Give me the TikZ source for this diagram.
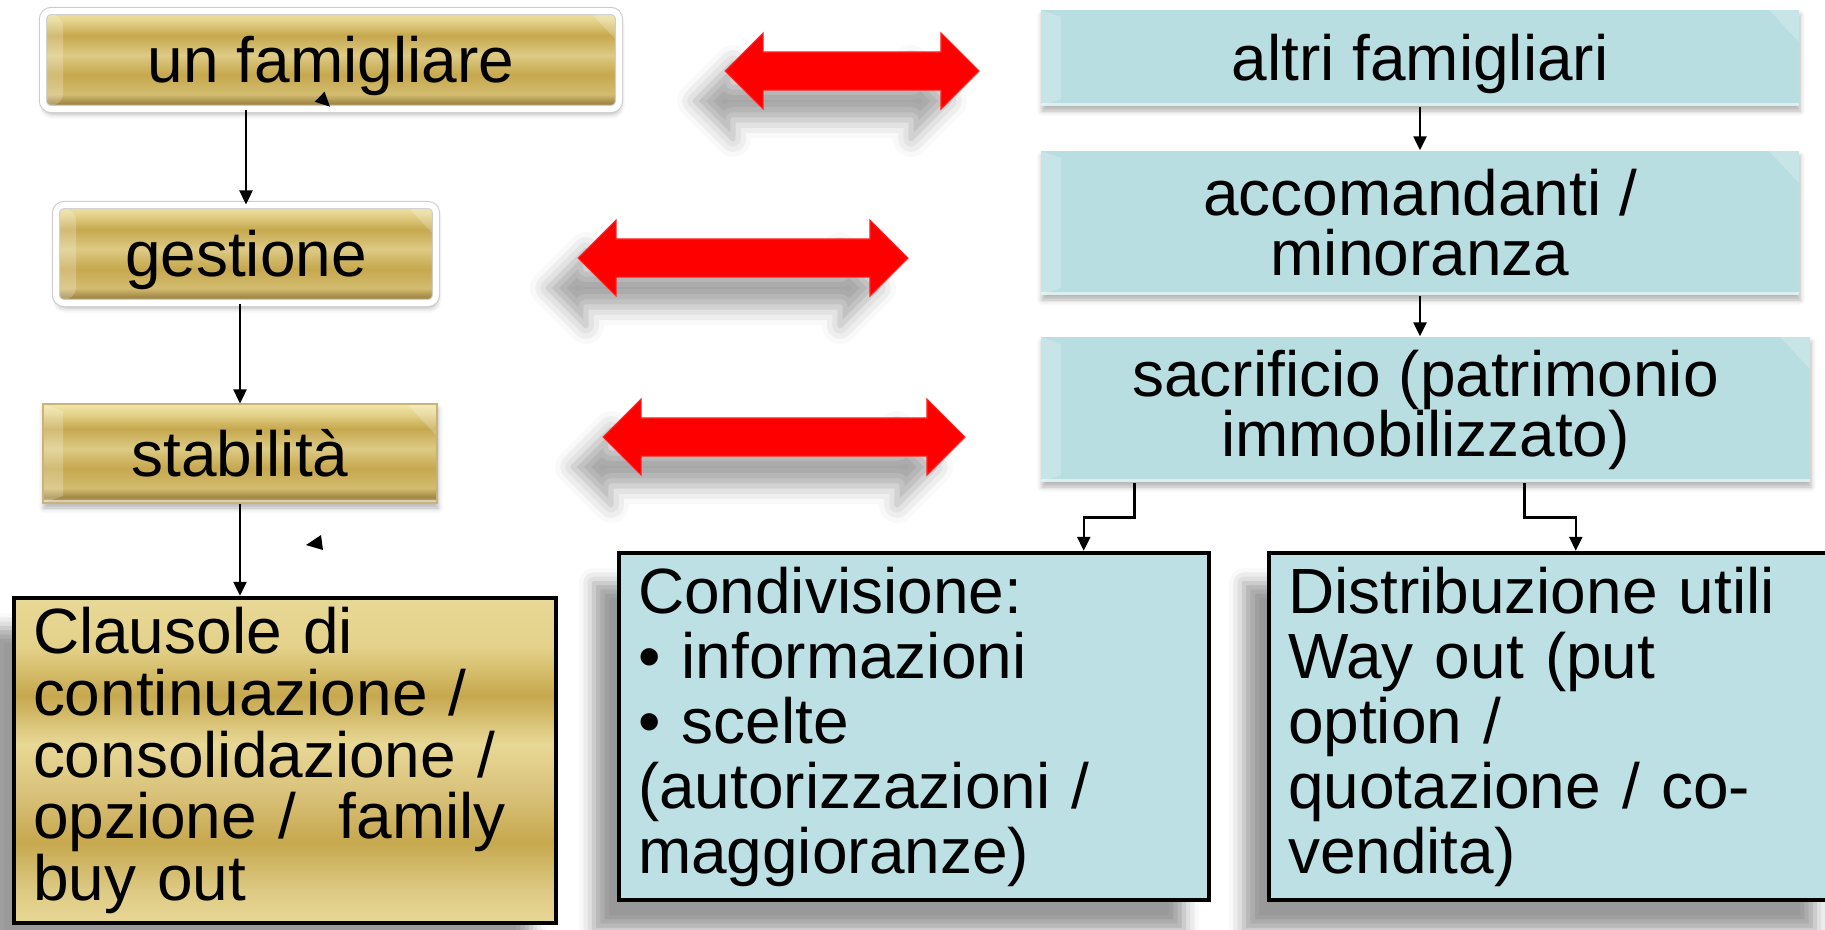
\documentclass[tikz,border=0pt]{standalone}
\usepackage{fontspec}
\setmainfont{Liberation Sans}
\usetikzlibrary{arrows.meta,shapes.arrows,shadows.blur}

\definecolor{goldtop}{HTML}{F2E6A8}
\definecolor{goldhi}{HTML}{E4D28A}
\definecolor{goldmid}{HTML}{DDCA84}
\definecolor{golddark}{HTML}{C6A84E}
\definecolor{goldlow}{HTML}{D3BC70}
\definecolor{goldedge}{HTML}{A08845}
\definecolor{goldbase}{HTML}{C8B47A}
\definecolor{goldpale}{HTML}{E8D896}
\definecolor{goldsoft}{HTML}{D9C27A}
\definecolor{tealhead}{HTML}{B8DEE1}
\definecolor{tealtext}{HTML}{BCE0E3}

\pgfdeclareverticalshading{goldbar}{100bp}{%
  color(0bp)=(goldbase); color(25bp)=(goldbase); color(28bp)=(goldedge);
  color(32.5bp)=(goldlow); color(42.5bp)=(golddark); color(52.5bp)=(goldmid);
  color(62.5bp)=(golddark); color(70bp)=(goldhi); color(75bp)=(goldtop);
  color(100bp)=(goldtop)}
\pgfdeclareverticalshading{goldtall}{100bp}{%
  color(0bp)=(goldpale); color(25bp)=(goldpale); color(30bp)=(goldmid);
  color(37.5bp)=(golddark); color(45bp)=(goldsoft); color(52.5bp)=(goldpale);
  color(60bp)=(golddark); color(67.5bp)=(goldhi); color(75bp)=(goldpale);
  color(100bp)=(goldpale)}

\begin{document}
\begin{tikzpicture}[
    font=\fontsize{18.2}{17.1}\selectfont,
    bevelled/.style={path picture={
        \fill[white,opacity=0.22] (path picture bounding box.north west) -- (path picture bounding box.south west)
            -- ([shift={(0.2,0.07)}]path picture bounding box.south west)
            -- ([shift={(0.2,-0.07)}]path picture bounding box.north west) -- cycle;
        \fill[white,opacity=0.22] (path picture bounding box.north east) -- ++(-0.3,0) -- ++(0.3,-0.32) -- cycle;
        \fill[white,opacity=0.5] (path picture bounding box.south west) rectangle ([yshift=0.03cm]path picture bounding box.south east);}},
    goldbox/.style={shading=goldbar, bevelled, inner sep=0pt, minimum height=0.98cm, text height=0.45cm, text depth=0pt,
        blur shadow={shadow xshift=0.01cm, shadow yshift=-0.05cm, shadow blur radius=0.05cm, shadow opacity=30}},
    framed/.style={goldbox, draw=gray!40, line width=0.3pt, double=white, double distance=0.06cm, rounded corners=0.08cm},
    headbox/.style={fill=tealhead, bevelled, inner sep=0pt, align=center, minimum width=7.58cm,
        blur shadow={shadow xshift=0.01cm, shadow yshift=-0.05cm, shadow blur radius=0.05cm, shadow opacity=30}},
    listbox/.style={draw=black, line width=0.045cm, align=left, inner xsep=0.19cm, inner ysep=0pt,
        font=\fontsize{18.2}{18.5}\selectfont,
        blur shadow={shadow xshift=-0.25cm, shadow yshift=-0.3cm, shadow blur radius=0.15cm, shadow opacity=40}},
    redlink/.style={double arrow, fill=red, draw=red!85!white, line width=0.3pt, inner xsep=0pt, inner ysep=0.185cm,
        minimum width=0.75cm, double arrow head extend=0.19cm,
        blur shadow={shadow xshift=-0.3cm, shadow yshift=-0.3cm, shadow blur radius=0.18cm, shadow opacity=35}},
    arrow/.style={-{Triangle[length=0.14cm,width=0.13cm]}, line width=0.7pt}
]
    \useasboundingbox (0,0) rectangle (18.25,-9.29);

    % left column
    \node[framed, minimum width=5.76cm] (fam) at (3.31,-0.60) {un famigliare};
    \node[framed, minimum width=3.80cm] (gest) at (2.46,-2.54) {gestione};
    \node[goldbox, draw=goldbase, line width=0.3pt, minimum width=3.94cm, minimum height=0.99cm] (stab) at (2.40,-4.535) {stabilità};
    \node[listbox, shading=goldtall, text width=5.04cm, minimum height=3.25cm, font=\fontsize{18.2}{17.6}\selectfont] (claus) at (2.85,-7.605)
        {Clausole di\\continuazione /\\consolidazione /\\opzione / \ family\\buy out};

    % right column
    \node[headbox, minimum height=0.96cm, text height=0.45cm, text depth=0pt] (altri) at (14.20,-0.58) {altri famigliari};
    \node[headbox, minimum height=1.44cm] (acc) at (14.20,-2.23) {accomandanti /\\minoranza};
    \node[headbox, minimum width=7.69cm, minimum height=1.45cm] (sacr) at (14.255,-4.095) {sacrificio (patrimonio\\immobilizzato)};
    \node[listbox, fill=tealtext, text width=5.52cm, minimum height=3.47cm] (cond) at (9.14,-7.265)
        {Condivisione:\\• informazioni\\• scelte\\(autorizzazioni /\\maggioranze)};
    \node[listbox, fill=tealtext, text width=5.33cm, minimum height=3.47cm] (distr) at (15.545,-7.265)
        {Distribuzione utili\\Way out (put\\option /\\quotazione / co-\\vendita)};

    % red links
    \node[redlink, minimum height=2.54cm] (famlink) at (8.52,-0.71) {};
    \node[redlink, minimum height=3.30cm] (gestlink) at (7.43,-2.58) {};
    \node[redlink, minimum height=3.62cm] (stablink) at (7.84,-4.37) {};

    \draw[arrow] (fam.south -| gest.north) -- (gest.north);
    \draw[arrow] (gest.south -| stab.north) -- (stab.north);
    \draw[arrow] (stab.south) -- (stab.south |- claus.north);
    \draw[arrow] (altri) -- (acc);
    \draw[arrow] (acc.south) -- (acc.south |- sacr.north);
    \draw[arrow] ([xshift=0.94cm]sacr.south west) -- ++(0,-0.35) -| ([xshift=4.67cm]cond.north west);
    \draw[arrow] ([xshift=4.84cm]sacr.south west) -- ++(0,-0.35) -| ([xshift=3.09cm]distr.north west);

    % stray tips
    \fill (3.245,-0.917) -- (3.147,-1.017) -- (3.30,-1.067) -- cycle;
    \fill (3.21,-5.35) -- (3.06,-5.45) -- (3.23,-5.50) -- cycle;
\end{tikzpicture}
\end{document}
